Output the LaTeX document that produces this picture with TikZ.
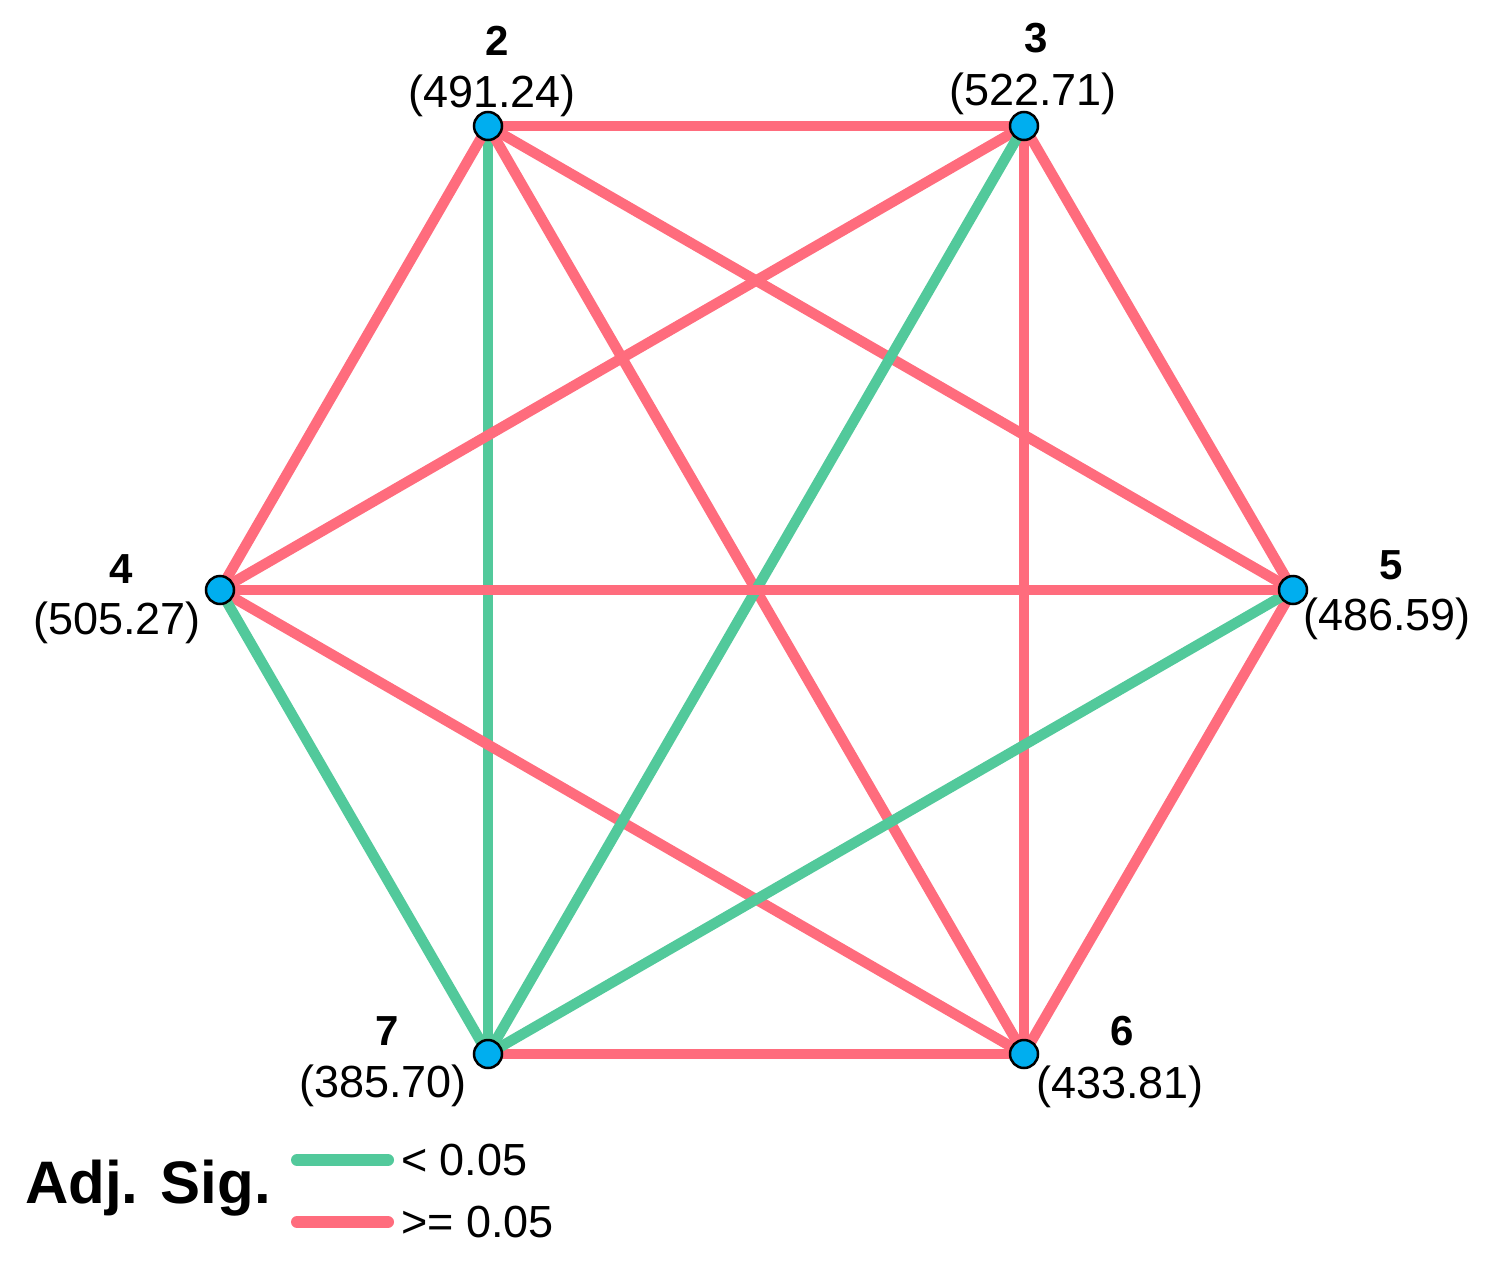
\documentclass[tikz,border=0pt]{standalone}
\usepackage{fontspec}
\setmainfont{Liberation Sans}
\definecolor{sigred}{RGB}{255,108,125}
\definecolor{siggreen}{RGB}{82,201,155}
\definecolor{nodeblue}{RGB}{0,174,239}
\begin{document}
\begin{tikzpicture}[x=1pt,y=-1pt,
  vtx/.style={circle,draw=black,line width=2.5pt,fill=nodeblue,minimum size=28pt,inner sep=0pt},
  redge/.style={draw=sigred,line width=10.5pt},
  gedge/.style={draw=siggreen,line width=10.5pt},
  numlab/.style={anchor=base,font=\fontsize{42}{42}\selectfont\bfseries,inner sep=0pt},
  vallab/.style={anchor=base,font=\fontsize{45}{45}\selectfont,inner sep=0pt},
  legline/.style={line width=12pt,line cap=round},
  legtext/.style={anchor=base west,font=\fontsize{45}{45}\selectfont,inner sep=0pt}]
\useasboundingbox (0,0) rectangle (1492,1282);
\coordinate (p2) at (488,126);
\coordinate (p3) at (1024,126);
\coordinate (p4) at (220,590);
\coordinate (p5) at (1293,590);
\coordinate (p6) at (1024,1054);
\coordinate (p7) at (488,1054);
% edges
\draw[gedge] (p2) -- (p7);
\draw[redge] (p2) -- (p3);
\draw[redge] (p2) -- (p4);
\draw[redge] (p2) -- (p5);
\draw[redge] (p3) -- (p4);
\draw[redge] (p3) -- (p5);
\draw[redge] (p3) -- (p6);
\draw[redge] (p2) -- (p6);
\draw[redge] (p4) -- (p6);
\draw[redge] (p5) -- (p6);
\draw[redge] (p6) -- (p7);
\draw[gedge] (p4) -- (p7);
\draw[gedge] (p3) -- (p7);
\draw[gedge] (p5) -- (p7);
\draw[redge] (p4) -- (p5);
% vertices
\node[vtx] (n2) at (p2) {};
\node[vtx] (n3) at (p3) {};
\node[vtx] (n4) at (p4) {};
\node[vtx] (n5) at (p5) {};
\node[vtx] (n6) at (p6) {};
\node[vtx] (n7) at (p7) {};
% labels
\node[numlab] (l2) at (497,55) {2};
\node[vallab] (v2) at (492,107) {(491.24)};
\node[numlab] (l3) at (1036,52) {3};
\node[vallab] (v3) at (1033,105) {(522.71)};
\node[numlab] (l4) at (121,583) {4};
\node[vallab] (v4) at (117,634) {(505.27)};
\node[numlab] (l5) at (1391,579) {5};
\node[vallab] (v5) at (1387,630) {(486.59)};
\node[numlab] (l6) at (1122,1045) {6};
\node[vallab] (v6) at (1120,1098) {(433.81)};
\node[numlab] (l7) at (387,1045) {7};
\node[vallab] (v7) at (383,1097) {(385.70)};
% legend
\node[anchor=base west,font=\fontsize{60}{60}\selectfont\bfseries,inner sep=0pt] (leg) at (25,1203) {Adj. Sig.};
\coordinate (g1) at (297,1160);
\coordinate (g2) at (388,1160);
\coordinate (r1) at (297,1222);
\coordinate (r2) at (388,1222);
\draw[legline,siggreen] (g1) -- (g2);
\draw[legline,sigred] (r1) -- (r2);
\node[legtext] (lt1) at (401,1175) {< 0.05};
\node[legtext] (lt2) at (401,1237) {>= 0.05};
\end{tikzpicture}
\end{document}
